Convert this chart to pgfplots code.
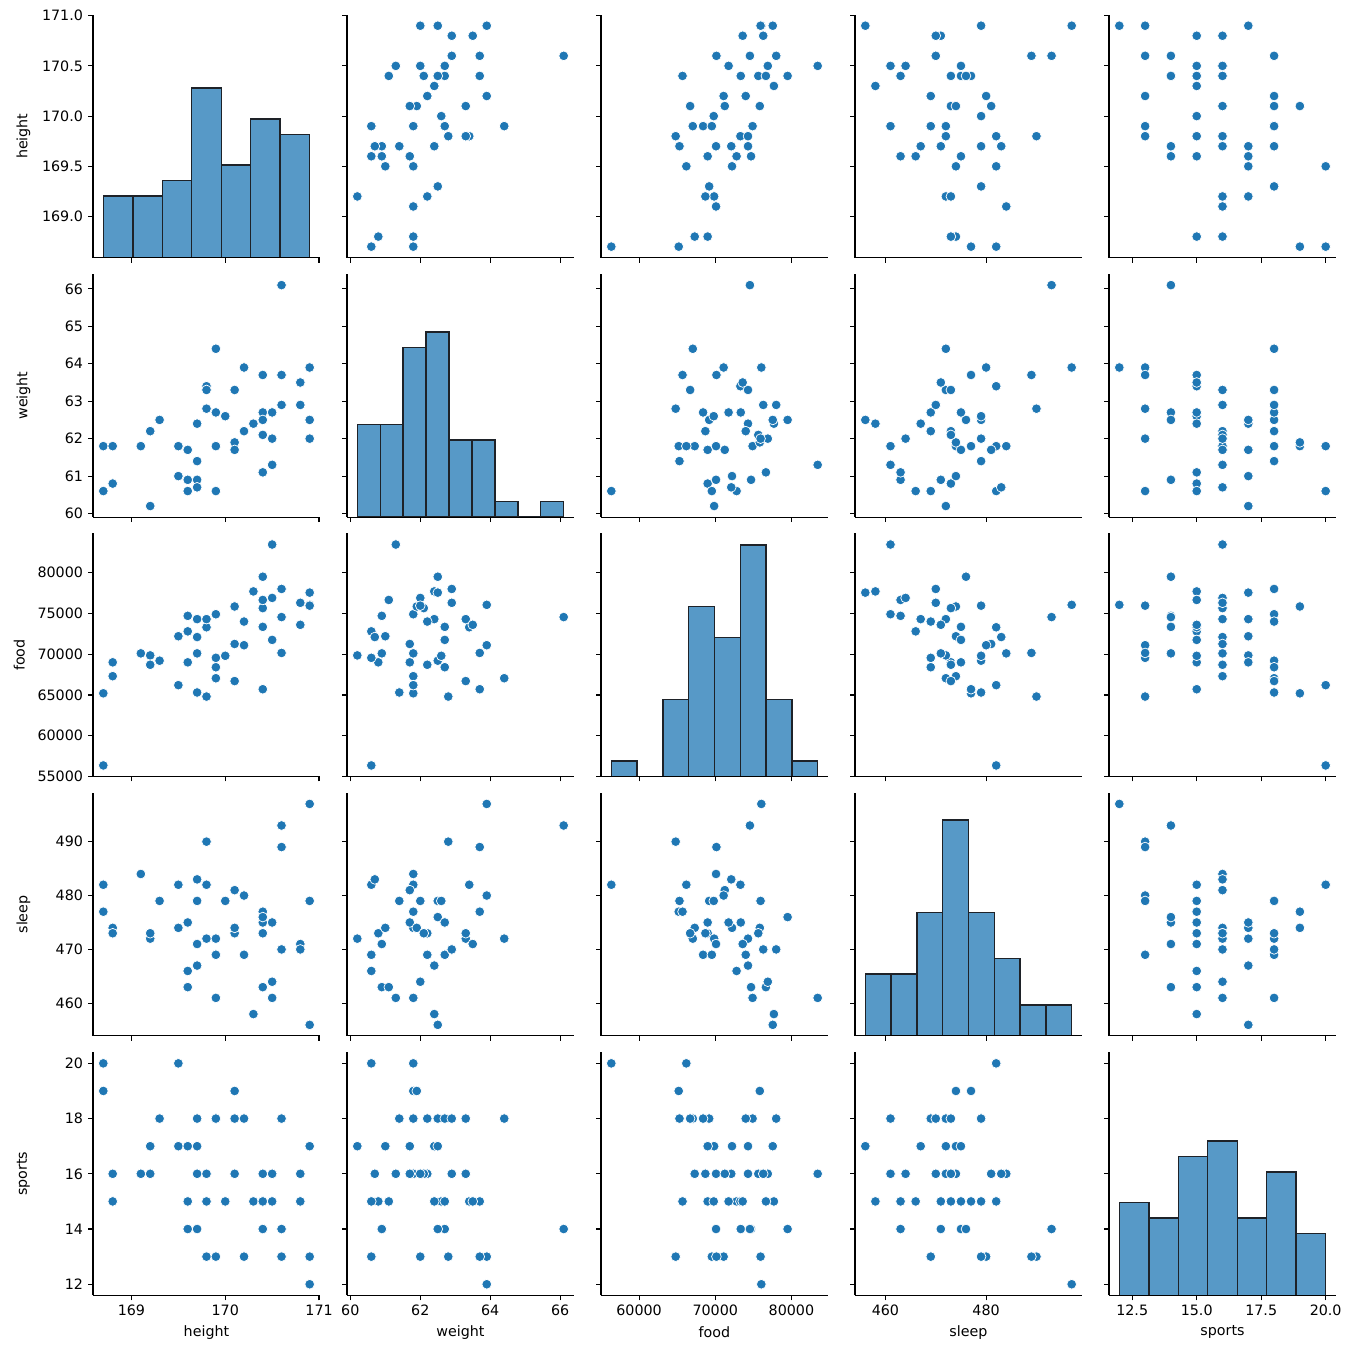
\documentclass[border=0pt]{standalone}
\usepackage{fontspec}
\setmainfont{DejaVu Sans}
\usepackage{pgfplots}
\usepackage{pgfplotstable}
\pgfplotsset{compat=1.18}
\definecolor{sb}{HTML}{1F77B4}
\definecolor{hb}{RGB}{87,153,199}
\definecolor{he}{RGB}{30,34,40}

\pgfplotstableread{
height weight food sleep sports
168.7 60.6 56350 482 20
168.7 61.8 65200 477 19
168.8 61.8 67300 474 16
168.8 60.8 69000 473 15
169.1 61.8 70100 484 16
169.2 60.2 69850 472 17
169.2 62.2 68700 473 16
169.3 62.5 69200 479 18
169.5 61.8 66200 482 20
169.5 61.0 72200 474 17
169.6 61.7 69000 475 17
169.6 60.9 74700 463 14
169.6 60.6 72800 466 15
169.7 62.4 74300 467 17
169.7 61.4 65300 479 18
169.7 60.9 70100 471 14
169.7 60.7 72100 483 16
169.8 63.4 73300 482 15
169.8 63.3 74300 472 16
169.8 62.8 64800 490 13
169.9 64.4 67050 472 18
169.9 62.7 68400 469 18
169.9 61.8 74900 461 18
169.9 60.6 69550 469 13
170.0 62.6 69800 479 15
170.1 63.3 66700 473 18
170.1 61.9 75850 474 19
170.1 61.7 71250 481 16
170.2 63.9 71100 480 13
170.2 62.2 74000 469 18
170.3 62.4 77700 458 15
170.4 63.7 65700 477 15
170.4 62.7 73350 475 14
170.4 62.5 79500 476 14
170.4 62.1 75650 473 16
170.4 61.1 76650 463 15
170.5 62.7 71750 475 15
170.5 62.0 76900 464 16
170.5 61.3 83450 461 16
170.6 66.1 74550 493 14
170.6 63.7 70150 489 13
170.6 62.9 78000 470 18
170.8 63.5 73600 471 15
170.8 62.9 76300 470 16
170.9 63.9 76050 497 12
170.9 62.5 77550 456 17
170.9 62.0 75950 479 13
}\data

\pgfplotsset{
 base/.style={scale only axis, width=158.9pt, height=170.1pt,
   axis x line*=bottom, axis y line*=left,
   axis line style={-, line width=0.8pt, black},
   tick pos=left, tick align=outside, major tick length=3.5pt,
   every tick/.style={black, line width=0.8pt},
   scaled x ticks=false, scaled y ticks=false,
   xticklabels={}, yticklabels={},
   tick label style={font=\fontsize{10}{12}\selectfont, text=black},
   label style={font=\fontsize{10}{12}\selectfont, text=black},
   /pgf/number format/assume math mode=true,
   xlabel style={at={(axis description cs:0.5,-0.152)}, anchor=center},
   ylabel style={at={(axis description cs:-0.307,0.5)}, anchor=center},
 },
 scm/.style={only marks, mark=*, mark size=3.4pt,
   mark options={fill=sb, draw=white, line width=0.5pt}},
 hs/.style={ybar interval, fill=hb, draw=he, line width=1pt},
 hax/.style={scale only axis, width=158.9pt, height=170.1pt, hide axis, ymin=0, ymax=15.75},
 xh/.style={xmin=168.59, xmax=171.01, xtick={169,170,171}},
 yh/.style={ymin=168.59, ymax=171.01, ytick={169,169.5,170,170.5,171}},
 xw/.style={xmin=59.905, xmax=66.395, xtick={60,62,64,66}},
 yw/.style={ymin=59.905, ymax=66.395, ytick={60,61,62,63,64,65,66}},
 xf/.style={xmin=54995, xmax=84805, xtick={60000,70000,80000}},
 yf/.style={ymin=54995, ymax=84805, ytick={55000,60000,65000,70000,75000,80000}},
 xs/.style={xmin=453.95, xmax=499.05, xtick={460,480}},
 ys/.style={ymin=453.95, ymax=499.05, ytick={460,470,480,490}},
 xp/.style={xmin=11.6, xmax=20.4, xtick={12.5,15,17.5,20}},
 yp/.style={ymin=11.6, ymax=20.4, ytick={12,14,16,18,20}},
 lyh/.style={yticklabels={169.0,169.5,170.0,170.5,171.0}, ylabel={height}},
 lyw/.style={yticklabels={60,61,62,63,64,65,66}, ylabel={weight}},
 lyf/.style={yticklabels={55000,60000,65000,70000,75000,80000}, ylabel={food},
   ylabel style={at={(axis description cs:-0.325,0.5)}}},
 lys/.style={yticklabels={460,470,480,490}, ylabel={sleep}},
 lyp/.style={yticklabels={12,14,16,18,20}, ylabel={sports}},
 lxh/.style={xticklabels={169,170,171}, xlabel={height}},
 lxw/.style={xticklabels={60,62,64,66}, xlabel={weight}},
 lxf/.style={xticklabels={60000,70000,80000}, xlabel={food}},
 lxs/.style={xticklabels={460,480}, xlabel={sleep}},
 lxp/.style={xticklabels={12.5,15.0,17.5,20.0}, xlabel={sports}},
}

\newcommand{\scat}[7]{%
\begin{axis}[base, at={(#1,#2)}, anchor=south west, #3, #4, #7]
\addplot[scm] table[x=#5, y=#6] {\data};
\end{axis}}
\newcommand{\diag}[6]{%
\begin{axis}[hax, at={(#1,#2)}, anchor=south west, #3]
\addplot[hs] coordinates {#5};
\end{axis}
\begin{axis}[base, at={(#1,#2)}, anchor=south west, #3, #4, #6]
\end{axis}}

\begin{document}
\begin{tikzpicture}
\path[use as bounding box] (0,0) rectangle (947.8pt,947.1pt);
% row 1
\diag{65.1pt}{766.71pt}{xh}{yh}{(168.7,4) (169.0143,4) (169.3286,5) (169.6429,11) (169.9571,6) (170.2714,9) (170.5857,8) (170.9,8)}{lyh}
\scat{242.9pt}{766.71pt}{xw}{yh}{weight}{height}{}
\scat{420.7pt}{766.71pt}{xf}{yh}{food}{height}{}
\scat{598.5pt}{766.71pt}{xs}{yh}{sleep}{height}{}
\scat{776.3pt}{766.71pt}{xp}{yh}{sports}{height}{}
% row 2
\scat{65.1pt}{585.13pt}{xh}{yw}{height}{weight}{lyw}
\diag{242.9pt}{585.13pt}{xw}{yw}{(60.2,6) (60.8556,6) (61.5111,11) (62.1667,12) (62.8222,5) (63.4778,5) (64.1333,1) (64.7889,0) (65.4444,1) (66.1,1)}{}
\scat{420.7pt}{585.13pt}{xf}{yw}{food}{weight}{}
\scat{598.5pt}{585.13pt}{xs}{yw}{sleep}{weight}{}
\scat{776.3pt}{585.13pt}{xp}{yw}{sports}{weight}{}
% row 3
\scat{65.1pt}{403.55pt}{xh}{yf}{height}{food}{lyf}
\scat{242.9pt}{403.55pt}{xw}{yf}{weight}{food}{}
\diag{420.7pt}{403.55pt}{xf}{yf}{(56350,1) (59737.5,0) (63125,5) (66512.5,11) (69900,9) (73287.5,15) (76675,5) (80062.5,1) (83450,1)}{}
\scat{598.5pt}{403.55pt}{xs}{yf}{sleep}{food}{}
\scat{776.3pt}{403.55pt}{xp}{yf}{sports}{food}{}
% row 4
\scat{65.1pt}{221.97pt}{xh}{ys}{height}{sleep}{lys}
\scat{242.9pt}{221.97pt}{xw}{ys}{weight}{sleep}{}
\scat{420.7pt}{221.97pt}{xf}{ys}{food}{sleep}{}
\diag{598.5pt}{221.97pt}{xs}{ys}{(456,4) (461.125,4) (466.25,8) (471.375,14) (476.5,8) (481.625,5) (486.75,2) (491.875,2) (497,2)}{}
\scat{776.3pt}{221.97pt}{xp}{ys}{sports}{sleep}{}
% row 5
\scat{65.1pt}{40.39pt}{xh}{yp}{height}{sports}{lyp,lxh}
\scat{242.9pt}{40.39pt}{xw}{yp}{weight}{sports}{lxw}
\scat{420.7pt}{40.39pt}{xf}{yp}{food}{sports}{lxf}
\scat{598.5pt}{40.39pt}{xs}{yp}{sleep}{sports}{lxs}
\diag{776.3pt}{40.39pt}{xp}{yp}{(12,6) (13.1429,5) (14.2857,9) (15.4286,10) (16.5714,5) (17.7143,8) (18.8571,4) (20,4)}{lxp}
\end{tikzpicture}
\end{document}
